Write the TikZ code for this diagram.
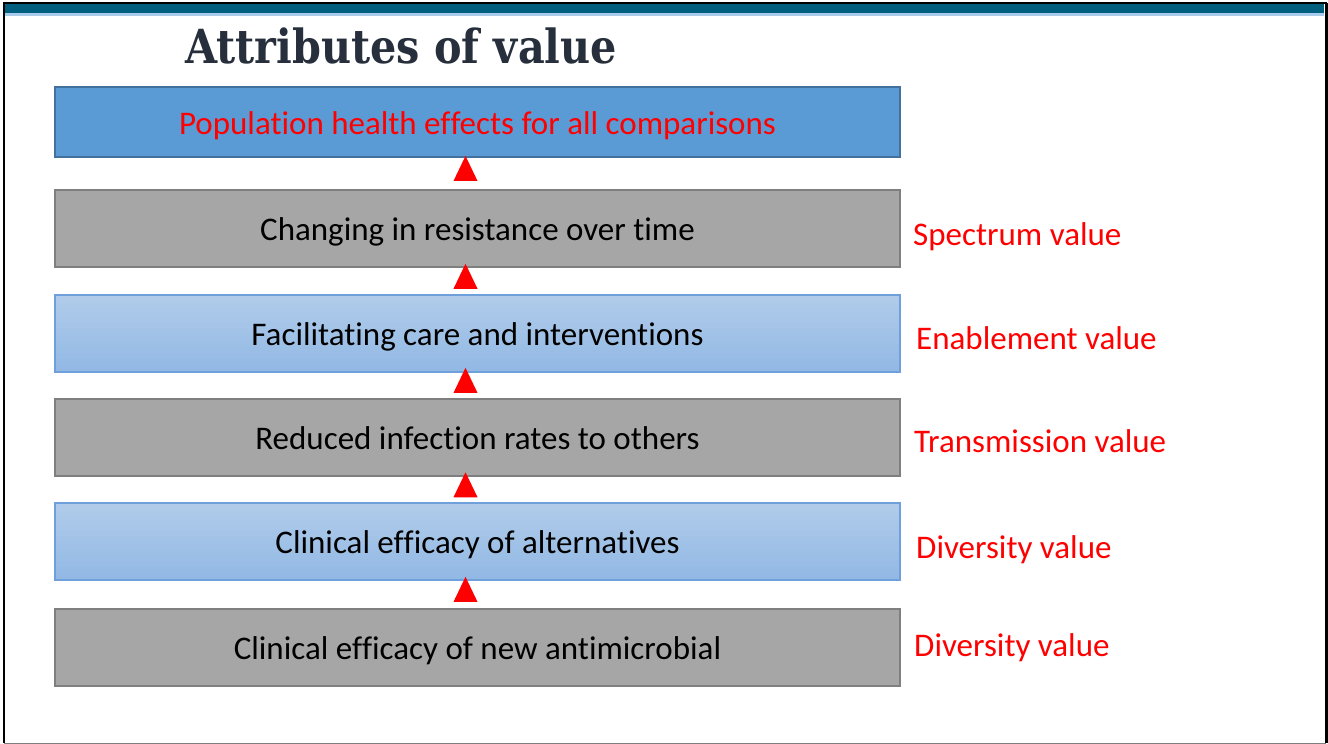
\documentclass[tikz,border=0pt]{standalone}
\usepackage{fontspec}
\setmainfont{Carlito}[Ligatures={NoCommon,NoRequired,NoContextual,NoHistoric,NoRare}]
\newfontfamily\titlefont{DejaVu Serif}[FakeStretch=0.88]
\newcommand{\nolig}{\kern0pt{}}
\definecolor{teal1}{HTML}{005F7F}
\definecolor{lblue}{HTML}{A9CBEB}
\definecolor{titlec}{HTML}{262F3B}
\definecolor{topfill}{HTML}{5B9BD5}
\definecolor{topdraw}{HTML}{41719C}
\definecolor{grayfill}{HTML}{A6A6A6}
\definecolor{graydraw}{HTML}{7F7F7F}
\definecolor{gtop}{HTML}{B1CCEA}
\definecolor{gbot}{HTML}{91B8E4}
\definecolor{gdraw}{HTML}{6FA0DC}
\tikzset{
  boxbase/.style={minimum width=845pt, minimum height=77pt, inner sep=0pt, font=\fontsize{33}{36}\selectfont, text=black, text height=27pt, text depth=3pt},
  graybox/.style={boxbase, fill=grayfill, draw=graydraw, line width=2pt},
  bluebox/.style={boxbase, top color=gtop, bottom color=gbot, draw=gdraw, line width=1.2pt},
  topbox/.style={boxbase, minimum height=70pt, fill=topfill, draw=topdraw, line width=1.5pt, text=red},
  lab/.style={anchor=west, inner sep=0pt, text=red, font=\fontsize{33}{36}\selectfont, text height=27pt, text depth=3pt},
  tri/.style={fill=red, draw=none, isosceles triangle, isosceles triangle apex angle=50, shape border rotate=90, minimum height=25pt, inner sep=0pt, isosceles triangle stretches}
}
\usetikzlibrary{shapes.geometric}
\begin{document}
\begin{tikzpicture}[x=1pt,y=-1pt]
\useasboundingbox (0,0) rectangle (1328,744);
\fill[white] (0,0) rectangle (1328,744);
% frame
\draw[graydraw, line width=1pt] (4,743) -- (1326,743);
\draw[black, line width=2.5pt] (4,3) -- (4,743);
\draw[black, line width=3pt] (1326,3) -- (1326,743);
\draw[black, line width=1.5pt] (3,3) -- (1327,3);
\fill[teal1] (5,4) rectangle (1324,13);
\fill[lblue] (5,13) rectangle (1324,15.5);
% title
\node[anchor=base, inner sep=0pt, text=titlec, font=\titlefont\bfseries\fontsize{47}{50}\selectfont] (title) at (401,63) {Attributes of value};
% boxes
\node[topbox] (b1) at (477.5,122) {Populat\nolig ion health ef\nolig fects for all comparisons};
\node[graybox] (b2) at (477.5,228.5) {Changing in resistance over t\nolig ime};
\node[bluebox] (b3) at (477.5,333.5) {Facilitat\nolig ing care and intervent\nolig ions};
\node[graybox] (b4) at (477.5,437.5) {Reduced infection rates to others};
\node[bluebox] (b5) at (477.5,541.5) {Clinical ef\nolig f\nolig icacy of alternat\nolig ives};
\node[graybox] (b6) at (477.5,647.5) {Clinical ef\nolig f\nolig icacy of new ant\nolig imicrobial};
% arrows
\foreach \lo/\hi in {b2/b1,b3/b2,b4/b3,b5/b4,b6/b5}{
  \path (\lo.north) -- (\hi.south) coordinate[pos=0.5] (m\lo);
  \node[tri, minimum width=24pt, minimum height=25pt] at ([xshift=-12pt]m\lo) {};
}
% labels
\node[lab] (l2) at (913,233) {Spectrum value};
\node[lab] (l3) at (916,337) {Enablement value};
\node[lab] (l4) at (914,440) {Transmission value};
\node[lab] (l5) at (916,546) {Diversity value};
\node[lab] (l6) at (914,644) {Diversity value};
\end{tikzpicture}
\end{document}
